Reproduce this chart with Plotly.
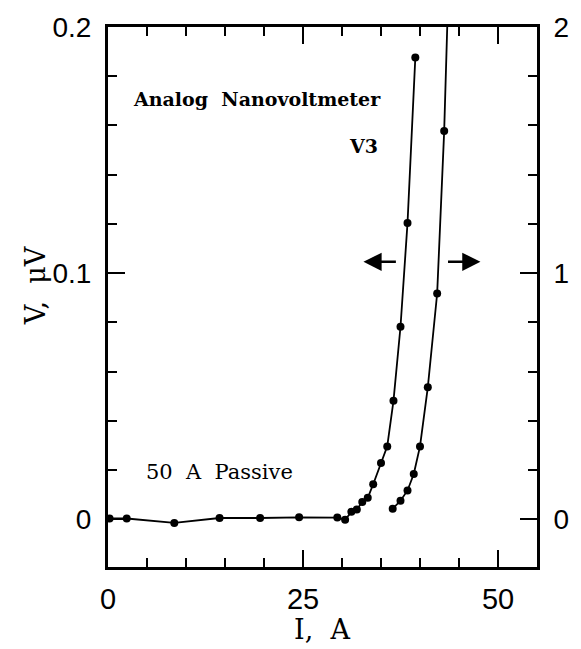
import plotly.graph_objects as go

# Current sweep, left-axis trace (V in microvolts)
current_left = [0.2, 2.4, 8.5, 14.3, 19.5, 24.5, 29.4, 30.4, 31.2, 31.9, 32.6,
                33.3, 34.0, 35.0, 35.8, 36.6, 37.5, 38.4, 39.4]
volt_left = [0.0003, 0.0003, -0.0015, 0.0005, 0.0005, 0.0008, 0.0007, -0.0002,
             0.003, 0.004, 0.007, 0.0087, 0.0142, 0.0229, 0.0296, 0.0481,
             0.0782, 0.1204, 0.1876]

# Right-axis trace (expanded scale)
current_right = [36.5, 37.5, 38.4, 39.2, 40.0, 41.0, 42.2, 43.1, 44.0]
volt_right = [0.043, 0.075, 0.117, 0.184, 0.296, 0.536, 0.917, 1.577, 2.55]

x_ticks = [0, 25, 50]
x_tick_text = ["0", "25", "50"]
y_left_ticks = [0, 0.1, 0.2]
y_left_text = ["0", "0.1", "0.2"]
y_right_ticks = [0, 1, 2]
y_right_text = ["0", "1", "2"]

serif = "DejaVu Serif"
sans = "Liberation Sans"
ink = "black"

fig = go.Figure()
fig.add_trace(go.Scatter(
    x=current_left, y=volt_left, mode="lines+markers",
    line=dict(color=ink, width=1.8),
    marker=dict(color=ink, size=8),
    yaxis="y", showlegend=False,
))
fig.add_trace(go.Scatter(
    x=current_right, y=volt_right, mode="lines+markers",
    line=dict(color=ink, width=1.8),
    marker=dict(color=ink, size=8),
    yaxis="y2", showlegend=False,
))

axis_common = dict(
    showgrid=False, zeroline=False, showline=True,
    linecolor=ink, linewidth=3,
    ticks="inside", tickcolor=ink, tickwidth=2, ticklen=17,
)

fig.update_layout(
    width=581, height=649,
    margin=dict(l=108, r=34, t=23, b=82),
    paper_bgcolor="white", plot_bgcolor="white",
    xaxis=dict(
        range=[0, 55], tickmode="array", tickvals=x_ticks, ticktext=x_tick_text,
        mirror="ticks",
        tickfont=dict(family=sans, size=29, color=ink),
        ticklabelstandoff=4,
        minor=dict(tick0=0, dtick=5, ticks="inside", ticklen=9,
                   tickwidth=2, tickcolor=ink),
        **axis_common,
    ),
    yaxis=dict(
        range=[-0.0194, 0.2], tickmode="array", tickvals=y_left_ticks,
        ticktext=y_left_text,
        tickfont=dict(family=sans, size=28, color=ink),
        ticklabelstandoff=8,
        minor=dict(tick0=0, dtick=0.02, ticks="inside", ticklen=9,
                   tickwidth=2, tickcolor=ink),
        **axis_common,
    ),
    yaxis2=dict(
        range=[-0.194, 2.0], overlaying="y", side="right",
        tickmode="array", tickvals=y_right_ticks, ticktext=y_right_text,
        tickfont=dict(family=sans, size=28, color=ink),
        ticklabelstandoff=8,
        minor=dict(tick0=0, dtick=0.2, ticks="inside", ticklen=9,
                   tickwidth=2, tickcolor=ink),
        **axis_common,
    ),
)

# Axis titles
fig.add_annotation(
    text="I,\u00a0 A", xref="paper", yref="paper", x=0.498, y=-0.115,
    showarrow=False, font=dict(family=serif, size=27, color=ink),
    xanchor="center", yanchor="middle",
)
fig.add_annotation(
    text="V,\u00a0 \u03bcV", xref="paper", yref="paper", x=-0.17, y=0.52,
    showarrow=False, textangle=-90, font=dict(family=serif, size=27, color=ink),
    xanchor="center", yanchor="middle",
)

# In-plot labels
fig.add_annotation(
    text="<b>Analog\u00a0 Nanovoltmeter</b>", x=3.0, y=0.1706, xref="x", yref="y",
    showarrow=False, font=dict(family=serif, size=19, color=ink),
    xanchor="left", yanchor="middle",
)
fig.add_annotation(
    text="<b>V3</b>", x=34.9, y=0.1516, xref="x", yref="y",
    showarrow=False, font=dict(family=serif, size=19, color=ink),
    xanchor="right", yanchor="middle",
)
fig.add_annotation(
    text="50\u00a0 A\u00a0 Passive", x=4.6, y=0.0194, xref="x", yref="y",
    showarrow=False, font=dict(family=serif, size=21, color=ink),
    xanchor="left", yanchor="middle",
)

# Arrows pointing to the axis each curve belongs to
for head, tail in [(32.75, 37.1), (47.75, 43.4)]:
    fig.add_annotation(
        x=head, y=0.1046, ax=tail, ay=0.1046,
        xref="x", yref="y", axref="x", ayref="y",
        text="", showarrow=True, arrowhead=2, arrowsize=1.4,
        arrowwidth=2.6, arrowcolor=ink,
    )

fig.write_html("out.html")
